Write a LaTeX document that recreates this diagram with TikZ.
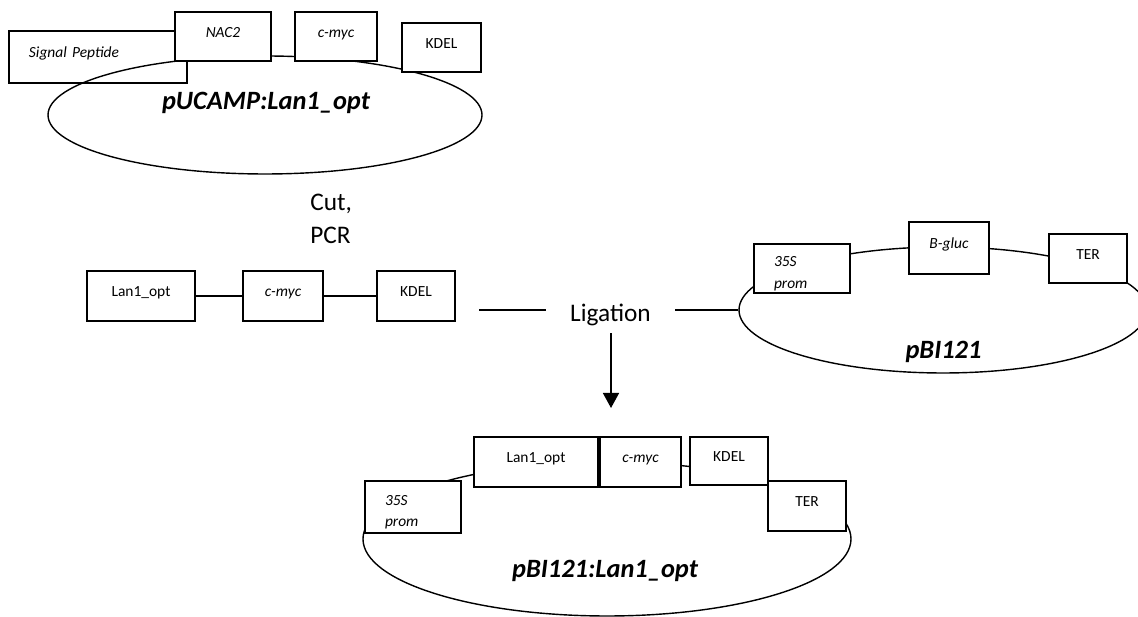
\documentclass[tikz,border=0pt]{standalone}
\usepackage{fontspec}
\setmainfont{Carlito}
\usetikzlibrary{shapes.geometric,arrows.meta}

\begin{document}
\begin{tikzpicture}[
  gene/.style={draw,line width=1.1pt,fill=white,inner sep=0pt,text height=7.1pt,text depth=5.7pt,font=\fontsize{11}{13}\selectfont},
  igene/.style={gene,font=\fontsize{11}{13}\selectfont\itshape},
  prom/.style={igene,align=left,text width=1.4cm,inner xsep=0.5cm,text depth=9.6pt,font=\fontsize{11}{15.3}\selectfont\itshape},
  plasmid/.style={draw,ellipse,line width=1pt,inner sep=0pt},
  pname/.style={font=\fontsize{18.8}{21}\selectfont\bfseries\itshape},
  big/.style={font=\fontsize{18}{24}\selectfont}
]
\useasboundingbox (0,0) rectangle (28.45,15.425);

% source plasmid
\node[igene,minimum width=4.45cm,minimum height=1.3cm,align=left,text width=3.45cm,inner xsep=0.5cm] (sp) at (2.45,14.0) {Signal Peptide};
\node[plasmid,minimum width=10.85cm,minimum height=2.95cm] (puc) at (6.625,12.55) {};
\node[igene,minimum width=2.4cm,minimum height=1.225cm] (nac) at (5.575,14.5125) {NAC2};
\node[igene,minimum width=2.05cm,minimum height=1.225cm] (myc1) at (8.4,14.5125) {c-myc};
\node[gene,minimum width=1.975cm,minimum height=1.225cm] (kdel1) at (11.0375,14.2375) {KDEL};
\node[pname] (pucname) at (6.65,12.8625) {pUCAMP:Lan1\_opt};

\node[big,align=left,anchor=west,inner sep=0pt] (cut) at (7.75,9.95) {Cut,\\PCR};

% PCR fragment
\node[gene,minimum width=2.7cm,minimum height=1.25cm] (lan2) at (3.525,8.025) {Lan1\_opt};
\node[igene,minimum width=2.0cm,minimum height=1.25cm] (myc2) at (7.075,8.025) {c-myc};
\node[gene,minimum width=1.95cm,minimum height=1.25cm] (kdel2) at (10.4,8.025) {KDEL};
\draw[line width=1.1pt] (lan2) -- (myc2);
\draw[line width=1.1pt] (myc2) -- (kdel2);

% vector
\node[plasmid,minimum width=10.2cm,minimum height=3.15cm] (pbi) at (23.575,7.675) {};
\node[prom,minimum width=2.4cm,minimum height=1.225cm] (prom3) at (20.05,8.7125) {35S\\prom};
\node[igene,minimum width=2.0cm,minimum height=1.3cm] (gluc) at (23.725,9.225) {B-gluc};
\node[gene,minimum width=1.95cm,minimum height=1.225cm] (ter3) at (27.2,8.9625) {TER};
\node[pname] (pbiname) at (23.5875,6.6375) {pBI121};

\node[big,inner xsep=0.6cm,inner ysep=0.175cm] (lig) at (15.2625,7.55) {Ligation};
\coordinate (ligl) at (11.975,7.675);
\coordinate (ligend) at (15.275,5.225);
\draw[line width=1.1pt] (ligl) -- (ligl -| lig.west);
\draw[line width=1.1pt] (pbi.west) -- (pbi.west -| lig.east);
\draw[line width=1.1pt,-{Triangle[width=0.4cm,length=0.375cm]}] (lig.south -| ligend) -- (ligend);

% product
\node[plasmid,minimum width=12.2cm,minimum height=3.85cm] (lan) at (15.175,1.95) {};
\node[prom,minimum width=2.4cm,minimum height=1.3cm] (prom4) at (10.325,2.75) {35S\\prom};
\node[gene,minimum width=3.1cm,minimum height=1.25cm] (lan4) at (13.4,3.875) {Lan1\_opt};
\node[igene,minimum width=2.025cm,minimum height=1.25cm] (myc4) at (16.0125,3.875) {c-myc};
\node[gene,minimum width=1.95cm,minimum height=1.2cm] (kdel4) at (18.225,3.9) {KDEL};
\node[gene,minimum width=1.95cm,minimum height=1.25cm] (ter4) at (20.175,2.775) {TER};
\node[pname] (lanname) at (15.125,1.1625) {pBI121:Lan1\_opt};
\end{tikzpicture}
\end{document}
